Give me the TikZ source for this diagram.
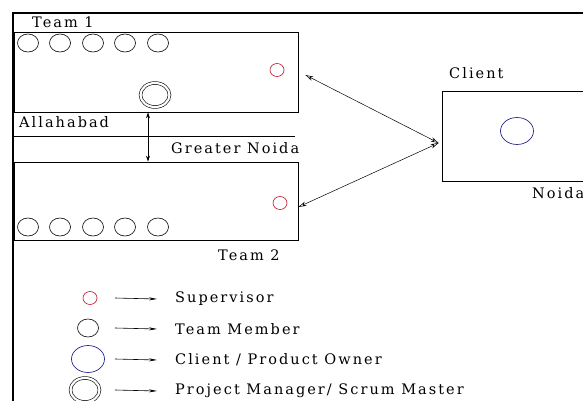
\documentclass[tikz,border=0pt]{standalone}
\usepackage{fontspec}
\setmainfont{DejaVu Serif}[LetterSpace=14]
\usetikzlibrary{shapes.geometric,arrows.meta}

\begin{document}
\begin{tikzpicture}[x=1pt, y=-1pt,
    box/.style={draw, line width=0.8pt, inner sep=0pt},
    member/.style={draw, ellipse, minimum width=21pt, minimum height=18pt, inner sep=0pt, line width=0.6pt},
    supervisor/.style={draw=supColour, ellipse, minimum width=14pt, minimum height=13pt, inner sep=0pt, line width=0.7pt},
    owner/.style={draw=ownerColour, ellipse, minimum width=33pt, minimum height=27pt, inner sep=0pt, line width=0.7pt},
    manager/.style={draw, double, double distance=2.2pt, line width=0.6pt, ellipse, minimum width=29pt, minimum height=24pt, inner sep=0pt},
    place/.style={font=\fontsize{14.5}{17}\selectfont, anchor=west, inner sep=0pt},
    link/.style={{Stealth[length=8pt,width=4.5pt,open]}-{Stealth[length=8pt,width=4.5pt,open]}, line width=0.5pt},
    key/.style={-{Stealth[length=8pt,width=3pt]}, line width=0.6pt}]
    \definecolor{supColour}{HTML}{C8283C}
    \definecolor{ownerColour}{HTML}{2A2A8C}

    \useasboundingbox (0,0) rectangle (583,401);
    \clip (0,0) rectangle (583,401);

    % Draw outer frame
    \draw[line width=2.5pt] (13,430) -- (13,13) -- (620,13);

    % Draw team and client boxes
    \node[box, minimum width=284pt, minimum height=80pt] (team1) at (156,72) {};
    \node[box, minimum width=284pt, minimum height=78pt] (team2) at (156,201) {};
    \node[box, minimum width=152pt, minimum height=90pt] (client) at (518,136) {};

    % Border between the two cities
    \draw[line width=0.6pt] (14,136) -- (295,136);

    % Team members
    \foreach \x in {28,60,93,125,158} {
        \node[member] (topm\x) at (\x,43) {};
        \node[member] (botm\x) at (\x,227) {};
    }

    % Supervisors, manager and client
    \node[supervisor] (sup1) at (277,70) {};
    \node[supervisor] (sup2) at (280,203) {};
    \node[manager] (pm) at (155,95) {};
    \node[owner] (owner) at (517,131) {};

    % Labels
    \node[place] (lblteam1) at (32,22) {Team 1};
    \node[place] (lblalld) at (19,122) {Allahabad};
    \node[place] (lblgnoida) at (171,148) {Greater Noida};
    \node[place] (lblteam2) at (218,255) {Team 2};
    \node[place] (lblclient) at (449,73) {Client};
    \node[place] (lblnoida) at (532,193) {Noida};

    % Communication links
    \coordinate (cin) at ([xshift=-3pt,yshift=-7pt]client.west);
    \coordinate (t1out) at ([xshift=7pt,yshift=-3pt]team1.east);
    \coordinate (t2out) at ([yshift=-6pt]team2.east);
    \draw[link] (t1out) -- (cin);
    \draw[link] (t2out) -- (cin);
    \draw[{Stealth[length=6pt,width=4pt]}-{Stealth[length=6pt,width=4pt]}, line width=0.7pt]
        ([xshift=-8pt]team1.south) -- ([xshift=-8pt]team2.north);

    % Legend
    \foreach \i/\x/\y/\sty/\txt in {1/90/298/supervisor/{Supervisor},
                                    2/88/328/member/{Team Member},
                                    3/88/359/owner/{Client / Product Owner},
                                    4/85/390/manager/{Project Manager/ Scrum Master}} {
        \node[\sty] (key\i) at (\x,\y) {};
        \node[place] (txt\i) at (175,\y+1) {\txt};
        \coordinate (kstart\i) at (115,\y);
        \draw[key] (kstart\i) -- ([xshift=-18pt]txt\i.west);
    }

\end{tikzpicture}
\end{document}
